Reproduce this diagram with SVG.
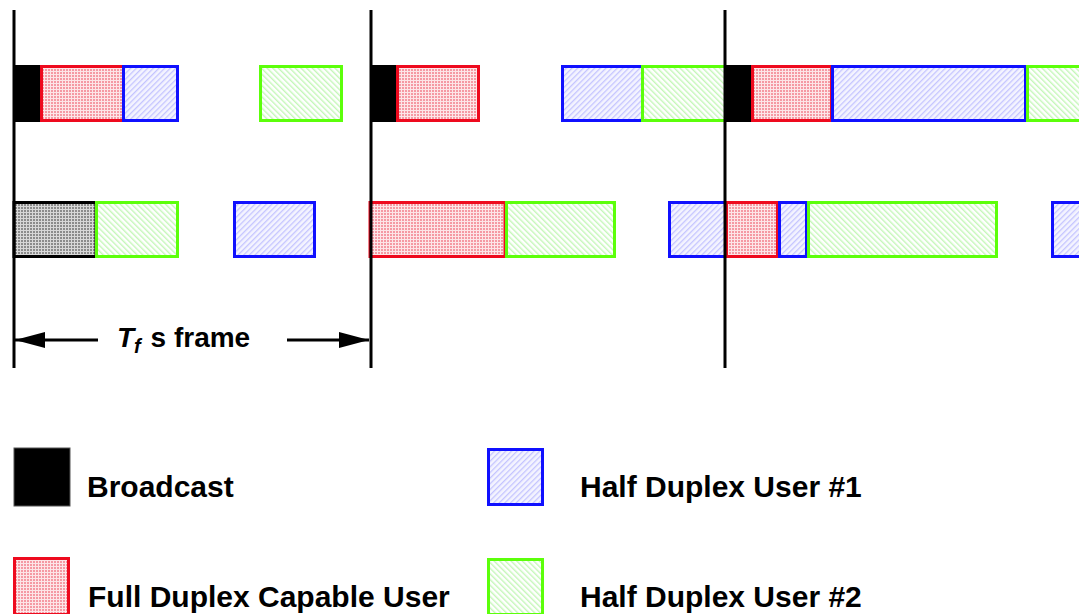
<svg xmlns="http://www.w3.org/2000/svg" width="1079" height="614" viewBox="0 0 1079 614">
<defs>
<pattern id="pRed" width="3" height="3" patternUnits="userSpaceOnUse">
<rect width="3" height="3" fill="#f59aa4"/>
<rect x="2" y="0" width="1" height="3" fill="#fde6e8"/>
<rect x="0" y="2" width="3" height="1" fill="#fde6e8"/>
</pattern>
<pattern id="pBlue" width="4" height="4" patternUnits="userSpaceOnUse" patternTransform="rotate(45)">
<rect width="4" height="4" fill="#f4f4ff"/>
<rect x="0" y="0" width="1.3" height="4" fill="#c4c4ff"/>
</pattern>
<pattern id="pGreen" width="4" height="4" patternUnits="userSpaceOnUse" patternTransform="rotate(-45)">
<rect width="4" height="4" fill="#ffffff"/>
<rect x="0" y="0" width="1.4" height="4" fill="#c4f7b8"/>
</pattern>
<pattern id="pGray" width="3" height="3" patternUnits="userSpaceOnUse">
<rect width="3" height="3" fill="#8c8c8c"/>
<rect x="2" y="0" width="1" height="3" fill="#d8d8d8"/>
<rect x="0" y="2" width="3" height="1" fill="#d8d8d8"/>
</pattern>
<marker id="arr" viewBox="0 0 30 16" refX="30" refY="8" markerWidth="30" markerHeight="16" markerUnits="userSpaceOnUse" orient="auto">
<path d="M0,0 L30,8 L0,16 Z" fill="#000"/>
</marker>
</defs>
<style>
.red{fill:url(#pRed);stroke:#ee0a1e;stroke-width:3}
.blue{fill:url(#pBlue);stroke:#1010ff;stroke-width:3}
.green{fill:url(#pGreen);stroke:#5cff0a;stroke-width:3}
.bc{fill:#000;stroke:#000;stroke-width:1}
.gray{fill:url(#pGray);stroke:#000;stroke-width:3}
.frame{stroke:#000;stroke-width:3}
.lbl{font-family:"Liberation Sans",Arial,sans-serif;font-weight:bold;font-size:30px;fill:#000}
</style>
<rect width="1079" height="614" fill="#ffffff"/>

<g id="row1">
<g id="r1-bc1"><rect class="bc" x="14" y="65.5" width="27" height="56"/></g>
<g id="r1-fd1"><rect class="red" x="41.5" y="66.5" width="82" height="54"/></g>
<g id="r1-hd1a"><rect class="blue" x="123.5" y="66.5" width="54" height="54"/></g>
<g id="r1-hd2a"><rect class="green" x="260.5" y="66.5" width="81" height="54"/></g>
<g id="r1-bc2"><rect class="bc" x="371" y="65.5" width="26" height="56"/></g>
<g id="r1-fd2"><rect class="red" x="397.5" y="66.5" width="81" height="54"/></g>
<g id="r1-hd1b"><rect class="blue" x="562.5" y="66.5" width="80" height="54"/></g>
<g id="r1-hd2b"><rect class="green" x="642.5" y="66.5" width="83" height="54"/></g>
<g id="r1-bc3"><rect class="bc" x="725" y="65.5" width="27" height="56"/></g>
<g id="r1-fd3"><rect class="red" x="752.5" y="66.5" width="79" height="54"/></g>
<g id="r1-hd1c"><rect class="blue" x="832.5" y="66.5" width="193" height="54"/></g>
<g id="r1-hd2d"><rect class="green" x="1027.5" y="66.5" width="60" height="54"/></g>
</g>

<g id="row2">
<g id="r2-gray"><rect class="gray" x="14" y="202.5" width="82" height="54"/></g>
<g id="r2-hd2a"><rect class="green" x="96.5" y="202.5" width="81" height="54"/></g>
<g id="r2-hd1a"><rect class="blue" x="234.5" y="202.5" width="80" height="54"/></g>
<g id="r2-fd1"><rect class="red" x="370" y="202.5" width="135" height="54"/></g>
<g id="r2-hd2b"><rect class="green" x="506.5" y="202.5" width="108" height="54"/></g>
<g id="r2-hd1b"><rect class="blue" x="669.5" y="202.5" width="70" height="54"/></g>
<g id="r2-fd2"><rect class="red" x="726.5" y="202.5" width="51" height="54"/></g>
<g id="r2-hd1c"><rect class="blue" x="779.5" y="202.5" width="27" height="54"/></g>
<g id="r2-hd2c"><rect class="green" x="808.5" y="202.5" width="188" height="54"/></g>
<g id="r2-hd1d"><rect class="blue" x="1052.5" y="202.5" width="40" height="54"/></g>
</g>

<g id="frame-lines">
<line class="frame" x1="14" y1="10" x2="14" y2="368"/>
<line class="frame" x1="371" y1="10" x2="371" y2="368"/>
<line class="frame" x1="725" y1="10" x2="725" y2="368"/>
</g>

<g id="connectors">
<line x1="98" y1="340" x2="15" y2="340" stroke="#000" stroke-width="3" marker-end="url(#arr)"/>
<line x1="287" y1="340" x2="369" y2="340" stroke="#000" stroke-width="3" marker-end="url(#arr)"/>
</g>

<g id="frame-label">
<text class="lbl" style="font-size:28px" x="117" y="347"><tspan font-style="italic">T</tspan><tspan font-style="italic" font-size="20" dy="6">f</tspan><tspan dy="-6" dx="2"> s frame</tspan></text>
</g>

<g id="legend-broadcast">
<rect x="14" y="448" width="56" height="58" fill="#000" stroke="#555" stroke-width="1"/>
<text class="lbl" x="87" y="497">Broadcast</text>
</g>
<g id="legend-fd">
<rect class="red" x="14.5" y="558.5" width="54" height="56"/>
<text class="lbl" x="88" y="607">Full Duplex Capable User</text>
</g>
<g id="legend-hd1">
<rect class="blue" x="488.5" y="449.5" width="54" height="55"/>
<text class="lbl" x="580" y="497">Half Duplex User #1</text>
</g>
<g id="legend-hd2">
<rect class="green" x="488.5" y="559.5" width="54" height="55"/>
<text class="lbl" x="580" y="607">Half Duplex User #2</text>
</g>
</svg>
